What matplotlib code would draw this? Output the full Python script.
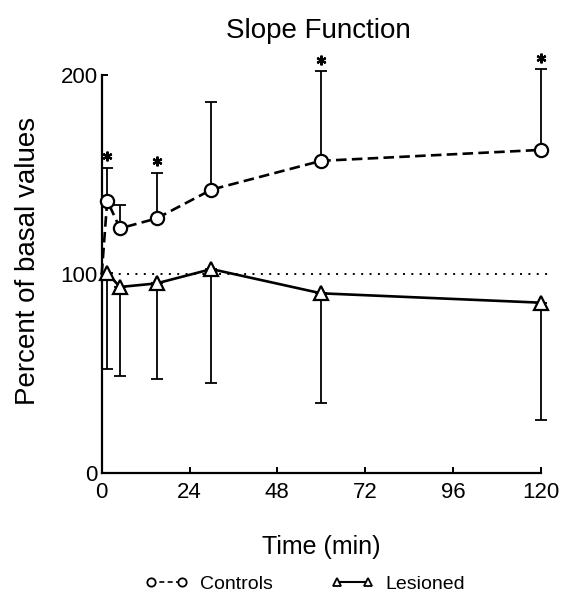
import matplotlib
matplotlib.use("Agg")
import matplotlib.pyplot as plt
from matplotlib.lines import Line2D
import numpy as np

plt.rcParams['font.family'] = ['Liberation Sans Narrow', 'Liberation Sans', 'DejaVu Sans']

# ---- data ----
time = [0, 1.5, 5, 15, 30, 60, 120]
controls = [100, 137, 123, 128, 142.5, 157, 162.5]
controls_err_up = [0, 16.5, 12, 23, 44, 45, 40.5]
lesioned = [100, 100.5, 93.5, 95.3, 102.5, 90.3, 85.6]
lesioned_err_down = [0, 48.5, 44.7, 48, 57.5, 55.1, 59.1]
star_times = [1.5, 15, 60, 120]
basal = 100
xticks = [0, 24, 48, 72, 96, 120]
yticks = [0, 100, 200]

fig = plt.figure(figsize=(5.62, 5.94), dpi=100)
ax = fig.add_axes([0.181, 0.2042, 0.807, 0.719])

t = np.array(time)
c = np.array(controls)
ce = np.array(controls_err_up)
l = np.array(lesioned)
le = np.array(lesioned_err_down)

# basal dotted line
ax.plot([0, 122], [basal, basal], color='k', lw=1.4, linestyle=(0, (1, 3.3)), zorder=1)

# error bars (one-sided)
ax.errorbar(t[1:], c[1:], yerr=[np.zeros(len(t) - 1), ce[1:]], fmt='none', ecolor='k',
            elinewidth=1.3, capsize=4, capthick=1.3, zorder=2, clip_on=False)
ax.errorbar(t[1:], l[1:], yerr=[le[1:], np.zeros(len(t) - 1)], fmt='none', ecolor='k',
            elinewidth=1.3, capsize=4, capthick=1.3, zorder=2, clip_on=False)

# lines
ax.plot(t, c, color='k', lw=1.9, linestyle=(0, (4, 2)), marker='o', markersize=9.5,
        markerfacecolor='white', markeredgecolor='k', markeredgewidth=1.6,
        markevery=list(range(1, len(t))), zorder=3, clip_on=False)
ax.plot(t, l, color='k', lw=1.9, linestyle='-', marker='^', markersize=9.5,
        markerfacecolor='white', markeredgecolor='k', markeredgewidth=1.6,
        markevery=list(range(1, len(t))), zorder=3, clip_on=False)

# significance stars
for st in star_times:
    i = time.index(st)
    ax.plot(st, controls[i] + controls_err_up[i] + 6, marker=(6, 2, 0), markersize=7,
            markeredgewidth=1.6, color='k', zorder=4, clip_on=False)

ax.set_xlim(0, 124)
ax.set_ylim(0, 215)
ax.spines['top'].set_visible(False)
ax.spines['right'].set_visible(False)
ax.spines['left'].set_bounds(0, 200)
ax.spines['bottom'].set_bounds(0, 120)
for s in ['left', 'bottom']:
    ax.spines[s].set_linewidth(1.6)
ax.set_xticks(xticks)
ax.set_yticks(yticks)
ax.tick_params(direction='in', length=4, width=1.4, labelsize=16)
ax.tick_params(axis='x', pad=7)
ax.tick_params(axis='y', pad=3)

ax.set_xlabel('Time (min)', fontsize=18)
ax.xaxis.set_label_coords(0.483, -0.145)
ax.set_ylabel('Percent of basal values', fontsize=20)
ax.yaxis.set_label_coords(-0.134, 0.495)
fig.text(0.566, 0.948, 'Slope Function', fontsize=20, ha='center', va='center')

handles = [
    Line2D([], [], color='k', lw=1.2, linestyle=(0, (3, 2)), marker='o', markersize=6,
           markerfacecolor='white', markeredgewidth=1.3),
    Line2D([], [], color='k', lw=1.5, linestyle='-', marker='^', markersize=6,
           markerfacecolor='white', markeredgewidth=1.3),
]
fig.legend(handles, ['Controls', 'Lesioned'], loc='center', bbox_to_anchor=(0.543, 0.016),
           ncol=2, frameon=False, fontsize=14, numpoints=2, handlelength=2.2,
           columnspacing=3.0, handletextpad=0.6)

fig.savefig('out.png', dpi=100)
